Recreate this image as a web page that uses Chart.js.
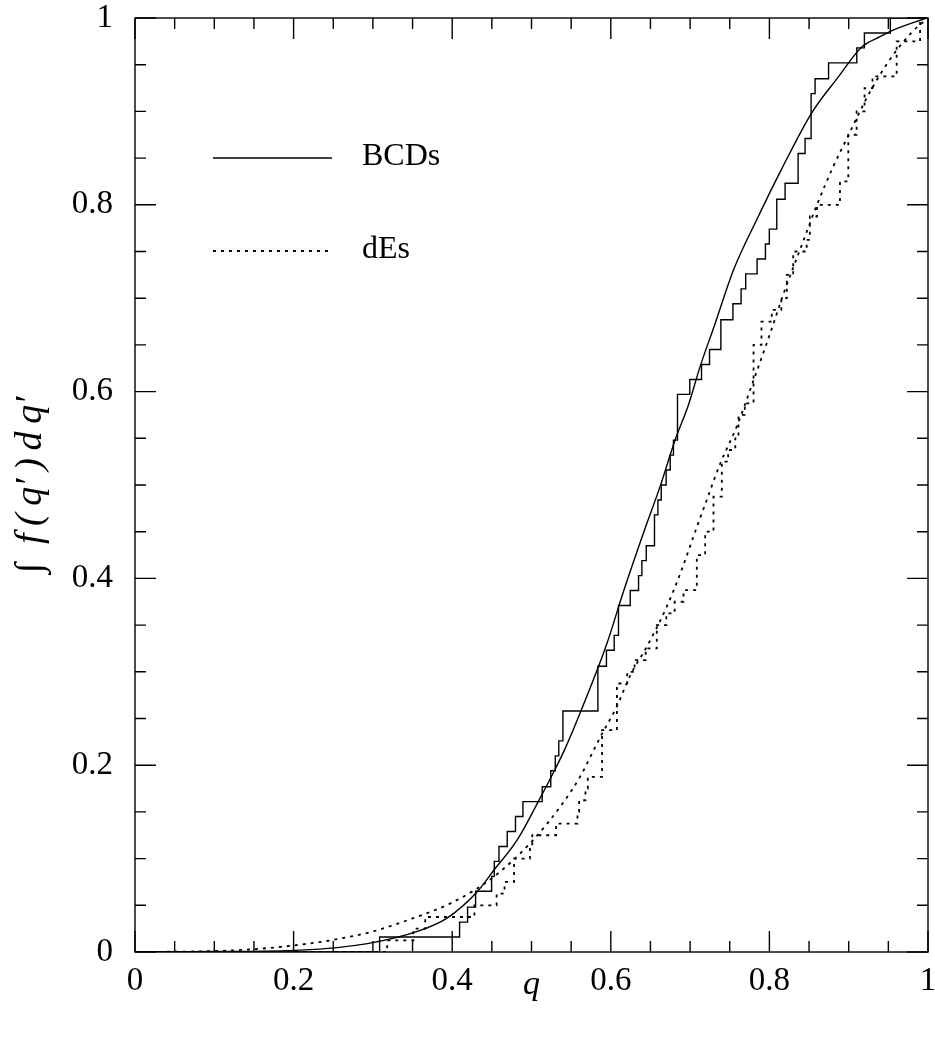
<!DOCTYPE html>
<html>
<head>
<meta charset="utf-8">
<script src="https://cdn.jsdelivr.net/npm/chart.js@4.4.1/dist/chart.umd.min.js"></script>
<style>
    html, body { margin: 0; padding: 0; background: #fff; }
    #wrap { width: 935px; height: 1040px; }
</style>
</head>
<body>
<div id="wrap"><canvas id="chart" width="935" height="1040"></canvas></div>
<script>
(function() {
    'use strict';

    // ===== Data =====
    // BCDs: empirical cumulative distribution (jump positions / level after the jump)
    const bcdStepQ = [0, 0.3085, 0.4093, 0.4194, 0.4295, 0.4497, 0.4531, 0.459, 0.4694, 0.4798, 0.4892,
        0.5135, 0.5243, 0.530, 0.5344, 0.5396, 0.5837, 0.5945, 0.6043, 0.6097, 0.6245, 0.635, 0.6392,
        0.6447, 0.6551, 0.6594, 0.6636, 0.6698, 0.6749, 0.679, 0.6841, 0.6996, 0.7144, 0.7245, 0.7388,
        0.754, 0.7643, 0.7701, 0.7845, 0.795, 0.7999, 0.8093, 0.8198, 0.8362, 0.845, 0.8526, 0.8576,
        0.8746, 0.9102, 0.9198, 0.9525, 1.0];
    const bcdStepF = [0, 0.016, 0.032, 0.048, 0.065, 0.081, 0.097, 0.113, 0.129, 0.145, 0.161,
        0.177, 0.194, 0.210, 0.226, 0.258, 0.306, 0.323, 0.339, 0.371, 0.387, 0.403, 0.419,
        0.435, 0.468, 0.484, 0.500, 0.516, 0.532, 0.548, 0.597, 0.613, 0.629, 0.645, 0.677,
        0.694, 0.710, 0.726, 0.742, 0.758, 0.774, 0.806, 0.823, 0.855, 0.871, 0.919, 0.935,
        0.952, 0.968, 0.984, 1.0, 1.0];

    // BCDs: smooth model curve
    const bcdFitQ = [0, 0.1, 0.208, 0.293, 0.356, 0.393, 0.431, 0.452, 0.482, 0.511, 0.524, 0.5425,
        0.568, 0.595, 0.616, 0.6455, 0.662, 0.681, 0.698, 0.7127, 0.7316, 0.7546, 0.784, 0.8135,
        0.853, 0.887, 0.9165, 0.9395, 0.956, 0.998];
    const bcdFitF = [0, 0.0005, 0.002, 0.009, 0.022, 0.036, 0.064, 0.087, 0.12, 0.165, 0.186, 0.218,
        0.27, 0.33, 0.386, 0.459, 0.498, 0.548, 0.586, 0.627, 0.673, 0.73, 0.784, 0.835,
        0.898, 0.937, 0.969, 0.98, 0.987, 1.0];

    // dEs: empirical cumulative distribution
    const deStepQ = [0, 0.318, 0.351, 0.366, 0.428, 0.456, 0.466, 0.478, 0.498, 0.501, 0.531, 0.558,
        0.560, 0.568, 0.571, 0.589, 0.6077, 0.6207, 0.630, 0.644, 0.658, 0.670, 0.6805, 0.6917,
        0.7085, 0.719, 0.7295, 0.740, 0.748, 0.757, 0.761, 0.769, 0.780, 0.790, 0.803, 0.815,
        0.822, 0.830, 0.847, 0.851, 0.860, 0.889, 0.8995, 0.910, 0.920, 0.930, 0.9605, 0.99, 1.0];
    const deStepF = [0, 0.0125, 0.025, 0.0375, 0.05, 0.0625, 0.075, 0.1, 0.1125, 0.125, 0.1375, 0.15,
        0.1625, 0.175, 0.1875, 0.2375, 0.2875, 0.30, 0.3125, 0.325, 0.35, 0.3625, 0.375, 0.3875,
        0.425, 0.45, 0.4875, 0.525, 0.5375, 0.55, 0.575, 0.5875, 0.65, 0.675, 0.6875, 0.70,
        0.725, 0.75, 0.7625, 0.7875, 0.80, 0.825, 0.875, 0.90, 0.925, 0.9375, 0.975, 1.0, 1.0];

    // dEs: smooth model curve
    const deFitQ = [0, 0.1, 0.15, 0.2, 0.25, 0.3, 0.35, 0.4, 0.45, 0.5, 0.54, 0.5615, 0.5867, 0.6077,
        0.6244, 0.6455, 0.6707, 0.6875, 0.7085, 0.721, 0.738, 0.759, 0.78, 0.80, 0.82, 0.84, 0.86,
        0.88, 0.90, 0.92, 0.94, 0.96, 0.98, 1.0];
    const deFitF = [0, 0.001, 0.003, 0.007, 0.013, 0.022, 0.036, 0.053, 0.079, 0.118, 0.16, 0.188, 0.23,
        0.263, 0.296, 0.327, 0.37, 0.405, 0.455, 0.484, 0.523, 0.563, 0.612, 0.66, 0.71, 0.755, 0.80,
        0.84, 0.875, 0.91, 0.94, 0.965, 0.985, 1.0];

    const majorTicks = [0, 0.2, 0.4, 0.6, 0.8, 1];
    const minorTicks = [0.05, 0.1, 0.15, 0.25, 0.3, 0.35, 0.45, 0.5, 0.55, 0.65, 0.7, 0.75, 0.85, 0.9, 0.95];

    const legendItems = [
        { label: 'BCDs', dash: [] },
        { label: 'dEs', dash: [3, 5] }
    ];

    function pts(xs, ys) {
        return xs.map((x, i) => ({ x: x, y: ys[i] }));
    }

    const FONT = '"Liberation Serif", "DejaVu Serif", serif';
    const LW = 1.4;

    // ===== Frame + inward ticks on all four sides =====
    const framePlugin = {
        id: 'frame',
        afterDraw(chart) {
            const ctx = chart.ctx;
            const a = chart.chartArea;
            const xs = chart.scales.x;
            const ys = chart.scales.y;
            ctx.save();
            ctx.strokeStyle = '#000';
            ctx.lineWidth = LW;
            ctx.setLineDash([]);
            ctx.strokeRect(a.left, a.top, a.right - a.left, a.bottom - a.top);

            function tickSet(list, len) {
                list.forEach(v => {
                    const px = xs.getPixelForValue(v);
                    ctx.beginPath();
                    ctx.moveTo(px, a.bottom); ctx.lineTo(px, a.bottom - len);
                    ctx.moveTo(px, a.top); ctx.lineTo(px, a.top + len);
                    const py = ys.getPixelForValue(v);
                    ctx.moveTo(a.left, py); ctx.lineTo(a.left + len, py);
                    ctx.moveTo(a.right, py); ctx.lineTo(a.right - len, py);
                    ctx.stroke();
                });
            }
            tickSet(majorTicks, 21);
            tickSet(minorTicks, 11);

            // legend
            ctx.font = '32px ' + FONT;
            ctx.fillStyle = '#000';
            ctx.textBaseline = 'middle';
            legendItems.forEach((it, i) => {
                const y = a.top + 140 + i * 93;
                ctx.setLineDash(it.dash);
                ctx.lineWidth = it.dash.length ? LW + 0.4 : LW;
                ctx.beginPath();
                ctx.moveTo(a.left + 78, y);
                ctx.lineTo(a.left + 197, y);
                ctx.stroke();
                ctx.fillText(it.label, a.left + 227, y - 1);
            });
            ctx.restore();
        }
    };

    const fmt = v => String(Number(v.toFixed(1)));

    const ctx = document.getElementById('chart').getContext('2d');
    new Chart(ctx, {
        type: 'scatter',
        data: {
            datasets: [{
                label: 'BCDs data',
                data: pts(bcdStepQ, bcdStepF),
                showLine: true,
                stepped: 'before',
                borderColor: '#000',
                borderWidth: LW,
                pointRadius: 0
            }, {
                label: 'BCDs model',
                data: pts(bcdFitQ, bcdFitF),
                showLine: true,
                cubicInterpolationMode: 'monotone',
                borderColor: '#000',
                borderWidth: LW,
                pointRadius: 0
            }, {
                label: 'dEs data',
                data: pts(deStepQ, deStepF),
                showLine: true,
                stepped: 'before',
                borderColor: '#000',
                borderWidth: LW + 0.4,
                borderDash: [3, 5],
                pointRadius: 0
            }, {
                label: 'dEs model',
                data: pts(deFitQ, deFitF),
                showLine: true,
                cubicInterpolationMode: 'monotone',
                borderColor: '#000',
                borderWidth: LW + 0.4,
                borderDash: [3, 5],
                pointRadius: 0
            }]
        },
        options: {
            responsive: false,
            animation: false,
            devicePixelRatio: 1,
            layout: { padding: { left: 0, right: 7, top: 18, bottom: 0 } },
            plugins: {
                legend: { display: false },
                tooltip: { enabled: false }
            },
            scales: {
                x: {
                    type: 'linear',
                    min: 0,
                    max: 1,
                    grid: { display: false, drawTicks: false },
                    border: { display: false },
                    ticks: {
                        stepSize: 0.2,
                        padding: 10,
                        color: '#000',
                        maxRotation: 0,
                        callback: fmt,
                        font: { family: FONT, size: 33 }
                    },
                    title: {
                        display: true,
                        text: 'q',
                        color: '#000',
                        padding: { top: 0, bottom: 35 },
                        font: { family: FONT, size: 34, style: 'italic' }
                    },
                    afterFit(s) {
                        s.height = 88;
                        s.paddingLeft = 0;
                        s.paddingRight = 0;
                    }
                },
                y: {
                    type: 'linear',
                    min: 0,
                    max: 1,
                    grid: { display: false, drawTicks: false },
                    border: { display: false },
                    ticks: {
                        stepSize: 0.2,
                        padding: 22,
                        color: '#000',
                        callback: fmt,
                        font: { family: FONT, size: 33 }
                    },
                    title: {
                        display: true,
                        text: '\u222B\u2002f\u2009(\u2009q\u2032\u2009)\u2009d\u2009q\u2032',
                        color: '#000',
                        padding: { top: 8, bottom: 0 },
                        font: { family: FONT, size: 38, style: 'italic' }
                    },
                    afterFit(s) {
                        s.width = 135;
                        s.paddingTop = 0;
                        s.paddingBottom = 0;
                    }
                }
            }
        },
        plugins: [framePlugin]
    });
})();
</script>
</body>
</html>
